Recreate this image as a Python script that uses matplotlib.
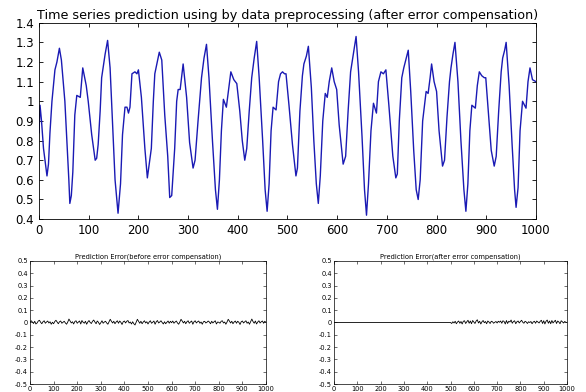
import numpy as np
import matplotlib
matplotlib.use('Agg')
import matplotlib.pyplot as plt
from matplotlib.ticker import FuncFormatter

# main series (peaks, troughs, shoulders)
t_main = [0, 2, 5, 9, 12, 16, 19, 22, 26, 32, 36, 41, 45, 52, 56, 60, 62, 65, 68, 72,
          76, 83, 88, 95, 99, 106, 113, 116, 119, 123, 126, 133, 138, 143, 149, 153, 159, 164, 168, 173,
          177, 180, 183, 187, 193, 197, 200, 206, 213, 218, 226, 230, 233, 238, 242, 247, 253, 259, 263, 267,
          273, 277, 280, 284, 290, 297, 303, 310, 314, 320, 327, 332, 337, 342, 349, 355, 359, 363, 367, 371,
          377, 381, 386, 392, 398, 404, 409, 414, 418, 423, 428, 433, 438, 443, 450, 455, 459, 463, 467, 471,
          477, 482, 486, 490, 494, 497, 503, 510, 517, 520, 525, 530, 533, 538, 542, 548, 553, 558, 562, 566,
          571, 576, 580, 584, 589, 594, 599, 604, 612, 617, 622, 627, 633, 638, 643, 650, 655, 659, 663, 668,
          673, 679, 683, 688, 693, 698, 704, 712, 718, 721, 725, 730, 734, 738, 743, 748, 754, 759, 763, 767,
          772, 779, 783, 787, 790, 795, 800, 805, 812, 816, 821, 826, 829, 833, 837, 843, 849, 855, 859, 863,
          867, 871, 878, 882, 886, 891, 896, 899, 904, 910, 916, 920, 925, 930, 933, 937, 940, 946, 952, 957,
          960, 964, 968, 973, 980, 984, 988, 993, 1000]
y_main = [0.84, 0.98, 0.90, 0.76, 0.70, 0.62, 0.68, 0.84, 1.00, 1.16, 1.20, 1.27, 1.21, 1.00, 0.80, 0.60, 0.48, 0.52, 0.64, 0.93,
          1.03, 1.02, 1.17, 1.08, 1.00, 0.83, 0.70, 0.71, 0.78, 0.95, 1.12, 1.24, 1.31, 1.17, 0.83, 0.60, 0.43, 0.58, 0.83, 0.97,
          0.97, 0.94, 0.97, 1.14, 1.15, 1.14, 1.16, 1.02, 0.76, 0.61, 0.76, 1.00, 1.14, 1.20, 1.25, 1.21, 0.93, 0.72, 0.51, 0.52,
          0.76, 1.00, 1.06, 1.06, 1.19, 1.02, 0.79, 0.66, 0.70, 0.90, 1.12, 1.22, 1.29, 1.12, 0.80, 0.55, 0.45, 0.60, 0.85, 1.01,
          0.97, 1.05, 1.15, 1.11, 1.09, 0.95, 0.80, 0.70, 0.76, 0.95, 1.12, 1.22, 1.305, 1.12, 0.80, 0.55, 0.44, 0.58, 0.85, 0.97,
          0.956, 1.10, 1.14, 1.15, 1.14, 1.14, 0.98, 0.78, 0.62, 0.66, 0.95, 1.13, 1.19, 1.23, 1.28, 1.07, 0.80, 0.58, 0.48, 0.62,
          0.90, 1.04, 1.02, 1.10, 1.17, 1.10, 1.06, 0.88, 0.68, 0.72, 0.95, 1.15, 1.25, 1.33, 1.15, 0.82, 0.55, 0.42, 0.58, 0.85,
          0.99, 0.94, 1.10, 1.15, 1.14, 1.16, 0.98, 0.72, 0.61, 0.63, 0.90, 1.12, 1.17, 1.21, 1.26, 1.05, 0.75, 0.55, 0.50, 0.60,
          0.90, 1.05, 1.04, 1.12, 1.19, 1.10, 1.05, 0.85, 0.67, 0.70, 0.92, 1.10, 1.17, 1.24, 1.30, 1.10, 0.80, 0.55, 0.44, 0.58,
          0.85, 0.98, 0.965, 1.08, 1.15, 1.13, 1.12, 1.12, 0.95, 0.75, 0.67, 0.72, 0.95, 1.15, 1.22, 1.26, 1.30, 1.08, 0.78, 0.55,
          0.46, 0.56, 0.85, 1.00, 0.965, 1.10, 1.17, 1.11, 1.10]

# error before compensation, one value every 5 steps (0..1000)
t_err = list(range(0, 1001, 5))
err_before = [0.000, 0.014, 0.004, -0.008, 0.010, -0.012, -0.004, 0.012, 0.018, 0.002, -0.010, 0.006, 0.014, -0.006, 0.004, 0.012, -0.004, 0.006, -0.014, 0.002,
              -0.010, 0.008, 0.018, 0.004, -0.010, 0.006, 0.012, -0.006, 0.002, 0.010, -0.004, -0.014, 0.004, 0.028, 0.012, -0.004, 0.006, -0.012, 0.008, 0.014,
              -0.006, 0.004, 0.012, -0.012, 0.016, 0.002, -0.006, 0.010, -0.014, 0.004, 0.016, 0.000, -0.008, 0.010, 0.020, 0.004, -0.010, 0.012, 0.002, -0.016,
              -0.002, 0.014, -0.006, 0.004, 0.010, -0.004, -0.014, 0.006, 0.026, 0.010, -0.004, 0.010, -0.010, 0.004, 0.014, -0.006, 0.012, 0.002, -0.016, 0.006,
              0.012, -0.004, 0.010, 0.016, -0.004, 0.004, -0.012, 0.006, -0.010, -0.020, 0.004, 0.026, 0.010, -0.006, 0.010, -0.010, 0.004, 0.014, -0.004, 0.006,
              -0.012, 0.004, 0.014, -0.006, 0.002, 0.012, -0.014, 0.006, 0.016, -0.004, 0.004, 0.014, 0.000, -0.012, 0.006, -0.010, 0.002, 0.012, -0.006, 0.010,
              -0.002, 0.012, -0.006, 0.004, 0.012, -0.004, -0.014, 0.004, 0.026, 0.012, -0.004, 0.010, -0.010, 0.006, 0.014, -0.006, 0.004, 0.012, -0.014, 0.006,
              0.014, -0.004, 0.006, 0.012, -0.006, 0.004, -0.014, 0.006, 0.010, -0.004, 0.002, 0.012, 0.004, -0.010, 0.010, -0.004, 0.006, 0.014, -0.012, 0.004,
              0.002, -0.006, 0.010, 0.014, -0.004, 0.004, -0.014, 0.004, 0.026, 0.012, -0.004, 0.010, -0.010, 0.004, 0.012, -0.006, 0.010, 0.002, -0.016, 0.006,
              0.012, -0.004, 0.006, 0.014, -0.006, 0.004, -0.014, 0.006, 0.028, 0.008, -0.006, 0.012, -0.012, 0.004, 0.014, -0.004, 0.006, 0.012, -0.006, 0.010,
              0.000]

# error after compensation: zero until 500, small noise afterwards
t_after = [0, 495] + list(range(500, 1001, 5))
err_after = [0.0, 0.0,
             0.000, -0.008, 0.006, -0.004, 0.010, -0.010, 0.004, 0.012, -0.006, 0.008, -0.012, 0.010, 0.014, -0.008, 0.006, 0.018, -0.006, 0.012, -0.010, 0.016,
             0.004, -0.008, 0.012, 0.022, -0.004, 0.010, -0.012, 0.006, 0.016, -0.002, 0.008, -0.010, 0.012, 0.004, -0.008, 0.010, 0.006, -0.006, 0.002, 0.008,
             -0.004, 0.010, 0.002, 0.012, -0.006, 0.014, 0.008, -0.012, 0.016, -0.008, 0.010, 0.004, 0.020, -0.006, 0.008, 0.014, -0.010, 0.006, 0.012, -0.004,
             0.008, 0.018, 0.002, -0.006, 0.010, 0.004, -0.008, 0.006, 0.000, 0.008, -0.010, 0.004, 0.010, -0.006, 0.012, 0.004, -0.004, 0.010, 0.018, -0.008,
             0.014, -0.012, 0.010, 0.020, -0.006, 0.012, -0.010, 0.016, -0.004, 0.008, 0.018, -0.008, 0.012, 0.004, -0.010, 0.014, 0.006, -0.004, 0.008, 0.002,
             0.000]

yticks_main = [0.4, 0.5, 0.6, 0.7, 0.8, 0.9, 1.0, 1.1, 1.2, 1.3, 1.4]
yticks_err = [-0.5, -0.4, -0.3, -0.2, -0.1, 0.0, 0.1, 0.2, 0.3, 0.4, 0.5]
xticks = list(range(0, 1001, 100))

fmt = FuncFormatter(lambda v, p: '%g' % (round(v, 6) + 0.0))

fig = plt.figure(figsize=(5.86, 3.92), dpi=100)

ax = fig.add_axes([0.0666, 0.441, 0.848, 0.501])
ax.plot(t_main, y_main, color='#1a1ab4', linewidth=1.0)
ax.set_xlim(0, 1000)
ax.set_ylim(0.4, 1.4)
ax.set_xticks(xticks)
ax.set_yticks(yticks_main)
ax.yaxis.set_major_formatter(fmt)
ax.tick_params(direction='in', top=True, right=True, labelsize=8.5, length=3, width=0.6)
ax.set_title('Time series prediction using by data preprocessing (after error compensation)',
             fontsize=9.2, pad=3)
for s in ax.spines.values():
    s.set_linewidth(0.6)

# bottom left
a1 = fig.add_axes([0.0512, 0.0204, 0.4027, 0.3138])
a1.plot(t_err, err_before, color='black', linewidth=0.6)
a1.set_title('Prediction Error(before error compensation)', fontsize=4.8, pad=2)

# bottom right
a2 = fig.add_axes([0.570, 0.0204, 0.3976, 0.3138])
a2.plot(t_after, err_after, color='black', linewidth=0.6)
a2.set_title('Prediction Error(after error compensation)', fontsize=4.8, pad=2)

for a in (a1, a2):
    a.set_xlim(0, 1000)
    a.set_ylim(-0.5, 0.5)
    a.set_xticks(xticks)
    a.set_yticks(yticks_err)
    a.yaxis.set_major_formatter(fmt)
    a.tick_params(direction='in', top=True, right=True, labelsize=4.8, length=2, width=0.4, pad=1.5)
    for s in a.spines.values():
        s.set_linewidth(0.5)

fig.savefig('out.png', dpi=100)
